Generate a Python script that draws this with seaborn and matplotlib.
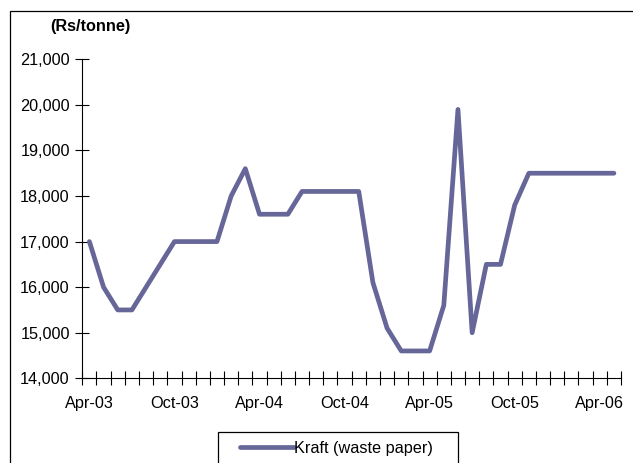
import numpy as np
import pandas as pd
import matplotlib
matplotlib.use("Agg")
import matplotlib.pyplot as plt
from matplotlib.patches import Rectangle
import seaborn as sns

# Monthly kraft waste-paper prices, Apr-03 to May-06 (Rs/tonne)
months = pd.date_range("2003-04-01", "2006-05-01", freq="MS").strftime("%b-%y").tolist()
prices = [17000, 16000, 15500, 15500, 16000, 16500, 17000, 17000, 17000, 17000,
          18000, 18600, 17600, 17600, 17600, 18100, 18100, 18100, 18100, 18100,
          16100, 15100, 14600, 14600, 14600, 15600, 19900, 15000, 16500, 16500,
          17800, 18500, 18500, 18500, 18500, 18500, 18500, 18500]
series_name = "Kraft (waste paper)"
unit_label = "(Rs/tonne)"
y_ticks = [14000, 15000, 16000, 17000, 18000, 19000, 20000, 21000]

df = pd.DataFrame({"month": months, "price": prices})

sns.set_theme(style="white")
plt.rcParams["font.family"] = ["Liberation Sans", "DejaVu Sans"]
FS = 11.7
W, H = 633, 463

fig = plt.figure(figsize=(W / 100, H / 100), dpi=100)
ax = fig.add_axes([82.3 / W, 1 - 378.3 / H, (621 - 82.3) / W, (378.3 - 59.3) / H])

sns.lineplot(data=df, x="month", y="price", ax=ax, sort=False,
             color="#666699", linewidth=3.4, label=series_name)

n = len(months)
ax.set_xlim(-0.5, n - 0.5)
ax.set_ylim(y_ticks[0], y_ticks[-1])

# tick marks between categories, labels every six months
ax.set_xticks(np.arange(-0.5, n, 1.0))
ax.set_xticklabels([])
label_pos = list(range(0, n, 6))
ax.set_xticks(label_pos, minor=True)
ax.set_xticklabels([months[i] for i in label_pos], minor=True)
ax.tick_params(axis="x", which="major", direction="inout", length=10, width=0.8,
               color="black", bottom=True)
ax.tick_params(axis="x", which="minor", length=0, pad=13, labelsize=FS,
               labelcolor="black", bottom=True)

ax.set_yticks(y_ticks)
ax.set_yticklabels([f"{v:,}" for v in y_ticks])
ax.tick_params(axis="y", direction="inout", length=10, width=0.8, color="black",
               left=True, pad=4.0, labelsize=FS, labelcolor="black")

ax.set_xlabel("")
ax.set_ylabel("")
for side in ("top", "right"):
    ax.spines[side].set_visible(False)
for side in ("left", "bottom"):
    ax.spines[side].set_color("black")
    ax.spines[side].set_linewidth(0.8)

fig.text(90 / W, 1 - 27 / H, unit_label, ha="center", va="center",
         fontsize=FS, fontweight="bold", color="black")

# legend entry, with its box drawn as a separate frame
leg = ax.legend(loc="center left", bbox_to_anchor=(240 / W, 1 - 448 / H),
                bbox_transform=fig.transFigure, frameon=False,
                fontsize=FS, handlelength=3.3, handletextpad=0.05,
                borderpad=0, borderaxespad=0)
for t in leg.get_texts():
    t.set_color("black")
fig.patches.append(Rectangle((218 / W, -0.1), (458 - 218) / W, 0.1 + 1 - 432 / H,
                             fill=False, edgecolor="black", linewidth=0.9,
                             transform=fig.transFigure, figure=fig))

# outer chart frame
fig.patches.append(Rectangle((10 / W, -0.2), 1.2, 1.2 - 11 / H, fill=False,
                             edgecolor="black", linewidth=0.9,
                             transform=fig.transFigure, figure=fig))

fig.savefig("out.png", dpi=100, facecolor="white")
